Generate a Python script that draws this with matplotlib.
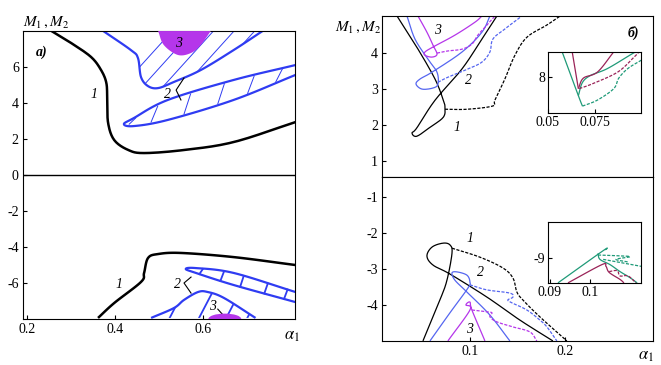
import numpy as np
import matplotlib.pyplot as plt
from matplotlib.patches import Polygon, Ellipse

plt.rcParams['font.family'] = ['Liberation Serif', 'DejaVu Serif']
plt.rcParams['mathtext.fontset'] = 'stix'
plt.rcParams['axes.unicode_minus'] = False
plt.rcParams['font.size'] = 10

# ---------------- panel a) data ----------------
a_c1_up_x = [0.255, 0.300, 0.345, 0.368, 0.380, 0.382, 0.384, 0.398, 0.430, 0.466, 0.557, 0.670, 0.811]
a_c1_up_y = [8.0, 7.33, 6.56, 5.83, 5.11, 4.17, 2.89, 1.94, 1.39, 1.22, 1.39, 1.83, 2.94]
a_c1_lo_x = [0.361, 0.398, 0.459, 0.466, 0.475, 0.498, 0.550, 0.670, 0.811]
a_c1_lo_y = [-7.94, -7.11, -5.94, -5.44, -4.61, -4.39, -4.33, -4.56, -5.0]

# upper U-shaped band (2)
a_u_x = [0.373, 0.436, 0.452, 0.459, 0.475, 0.498, 0.534, 0.595, 0.670, 0.736]
a_u_y = [8.0, 6.94, 6.5, 5.44, 4.94, 4.83, 5.17, 5.83, 6.94, 8.0]
# narrow upper loop (2)
a_lp_tip = (0.420, 2.83)
a_lp_top_x = [0.443, 0.520, 0.670, 0.811]
a_lp_top_y = [3.17, 4.17, 5.28, 6.11]
a_lp_bot_x = [0.443, 0.520, 0.670, 0.811]
a_lp_bot_y = [2.72, 3.06, 4.17, 5.56]
a_lp_hatch = [0.432, 0.482, 0.557, 0.634, 0.702, 0.766]
# magenta blob (3) upper
a_m_x = [0.498, 0.511, 0.543, 0.573, 0.595, 0.618]
a_m_y = [8.0, 7.22, 6.67, 6.78, 7.22, 8.0]

# lower narrow loop (2)
a_ll_tip = (0.561, -5.22)
a_ll_top_x = [0.584, 0.670, 0.811]
a_ll_top_y = [-5.17, -5.44, -6.5]
a_ll_bot_x = [0.584, 0.670, 0.811]
a_ll_bot_y = [-5.44, -6.11, -7.06]
a_ll_hatch = [0.600, 0.648, 0.693, 0.748, 0.793]
# lower inverted V (2)
a_v_x = [0.482, 0.534, 0.557, 0.589, 0.611, 0.648, 0.720]
a_v_y = [-7.94, -7.39, -6.94, -6.5, -6.5, -6.83, -7.94]

# ---------------- panel б) data ----------------
b_k_up_x = [0.0232, 0.0453, 0.0632, 0.0716, 0.0737, 0.072, 0.058, 0.044, 0.039, 0.044, 0.0632, 0.0916, 0.1126, 0.1284]
b_k_up_y = [5.03, 4.11, 3.28, 2.72, 2.5, 2.22, 1.94, 1.69, 1.78, 1.92, 2.69, 3.56, 4.39, 5.03]
b_k_upd_x = [0.0737, 0.097, 0.124, 0.1263, 0.1368, 0.1474, 0.160, 0.181, 0.195]
b_k_upd_y = [2.44, 2.44, 2.53, 2.69, 3.28, 3.94, 4.44, 4.78, 5.03]
b_b_up_x = [0.0337, 0.0421, 0.0558, 0.0653, 0.0663, 0.0611, 0.0495, 0.0432, 0.0474, 0.060, 0.0916, 0.1126, 0.121]
b_b_up_y = [5.03, 4.39, 3.83, 3.47, 3.14, 3.03, 3.0, 3.14, 3.28, 3.47, 4.03, 4.58, 5.03]
b_b_upd_x = [0.0663, 0.0768, 0.0979, 0.1126, 0.121, 0.1242, 0.1368, 0.1547]
b_b_upd_y = [3.19, 3.33, 3.56, 3.75, 4.03, 4.39, 4.67, 5.03]
b_m_up_x = [0.0453, 0.0547, 0.0611, 0.0653, 0.060, 0.0526, 0.0526, 0.0611, 0.0842, 0.1053, 0.1126]
b_m_up_y = [5.03, 4.58, 4.22, 3.97, 3.89, 3.94, 4.03, 4.17, 4.5, 4.86, 5.03]
b_m_upd_x = [0.0653, 0.0768, 0.0916, 0.1021, 0.1084, 0.1179, 0.1263]
b_m_upd_y = [4.0, 4.06, 4.11, 4.25, 4.5, 4.78, 5.03]

b_k_lo_x = [0.0505, 0.0684, 0.0758, 0.0811, 0.079, 0.0716, 0.060, 0.0547, 0.0611, 0.079, 0.1179, 0.1526, 0.1874]
b_k_lo_y = [-5.0, -3.86, -3.31, -2.56, -2.33, -2.28, -2.39, -2.64, -2.89, -3.14, -3.78, -4.42, -5.0]
b_k_lod_x = [0.0811, 0.1105, 0.1347, 0.1453, 0.1495, 0.1558, 0.1737, 0.2021]
b_k_lod_y = [-2.42, -2.67, -2.97, -3.25, -3.64, -3.86, -4.33, -5.0]
b_b_lo_x = [0.0579, 0.0789, 0.0979, 0.1, 0.0968, 0.0863, 0.0811, 0.0842, 0.0968, 0.121, 0.1421]
b_b_lo_y = [-5.0, -4.22, -3.53, -3.36, -3.17, -3.08, -3.11, -3.31, -3.64, -4.28, -5.0]
b_b_lod_x = [0.1, 0.1179, 0.1421, 0.1453, 0.14, 0.1442, 0.160, 0.1737, 0.1811, 0.1916]
b_b_lod_y = [-3.44, -3.58, -3.67, -3.78, -3.86, -3.94, -4.14, -4.42, -4.61, -5.0]
b_m_lo_x = [0.0768, 0.1, 0.0958, 0.1, 0.1021, 0.1158]
b_m_lo_y = [-5.0, -4.14, -4.0, -3.92, -4.14, -5.0]
b_m_lod_x = [0.1021, 0.1179, 0.1232, 0.1211, 0.1284, 0.1453, 0.1632, 0.1705]
b_m_lod_y = [-4.14, -4.19, -4.22, -4.33, -4.47, -4.61, -4.75, -5.0]

# insets
i1_g1_x = [0.0576, 0.0663, 0.0685]
i1_g1_y = [8.29, 7.79, 7.67]
i1_g2_x = [0.0663, 0.0685, 0.0728, 0.082, 0.0962, 0.0985]
i1_g2_y = [7.79, 7.94, 8.02, 8.10, 8.28, 8.29]
i1_gd_x = [0.0685, 0.0766, 0.0853, 0.088, 0.0929, 0.1005]
i1_gd_y = [7.67, 7.74, 7.87, 7.99, 8.10, 8.2]
i1_r1_x = [0.063, 0.0663]
i1_r1_y = [8.29, 7.87]
i1_r2_x = [0.0663, 0.069, 0.0766, 0.0853]
i1_r2_y = [7.87, 7.99, 8.06, 8.29]
i1_rd_x = [0.0668, 0.0744, 0.0875, 0.0962, 0.0989]
i1_rd_y = [7.87, 7.93, 8.06, 8.23, 8.29]

i2_g1_x = [0.092, 0.1033, 0.104]
i2_g1_y = [-9.29, -8.92, -8.91]
i2_g2_x = [0.102, 0.1025, 0.105, 0.1075, 0.11, 0.1118]
i2_g2_y = [-8.95, -9.02, -9.08, -9.16, -9.23, -9.29]
i2_gd1_x = [0.102, 0.1075, 0.11, 0.1065, 0.1095]
i2_gd1_y = [-8.97, -8.98, -8.99, -9.02, -9.05]
i2_gd2_x = [0.1033, 0.1128]
i2_gd2_y = [-9.02, -9.10]
i2_r_x = [0.0945, 0.103, 0.104, 0.1048, 0.1075, 0.1085]
i2_r_y = [-9.29, -9.08, -9.10, -9.17, -9.25, -9.29]
i2_rd_x = [0.1048, 0.1068, 0.1075, 0.1095, 0.1115]
i2_rd_y = [-9.16, -9.15, -9.21, -9.21, -9.29]

BLUE = '#2f3cf2'
LBLUE = '#5566f0'
MAG = '#b536ea'
GREEN = '#1f9a78'
MAROON = '#9a2358'
DASH = (0, (2.5, 1.2))


def smooth(x, y, n=12):
    """Catmull-Rom through the read points"""
    x = np.asarray(x, float)
    y = np.asarray(y, float)
    if len(x) < 3:
        return x, y
    p = np.column_stack([x, y])
    p = np.vstack([2 * p[0] - p[1], p, 2 * p[-1] - p[-2]])
    out = []
    t = np.linspace(0, 1, n, endpoint=False)[:, None]
    for i in range(1, len(p) - 2):
        p0, p1, p2, p3 = p[i - 1], p[i], p[i + 1], p[i + 2]
        seg = 0.5 * ((2 * p1) + (-p0 + p2) * t + (2 * p0 - 5 * p1 + 4 * p2 - p3) * t ** 2
                     + (-p0 + 3 * p1 - 3 * p2 + p3) * t ** 3)
        out.append(seg)
    out.append(p[-2][None, :])
    out = np.vstack(out)
    return out[:, 0], out[:, 1]


def curve(ax, x, y, **kw):
    sx, sy = smooth(x, y)
    ax.plot(sx, sy, solid_capstyle='butt', **kw)
    return sx, sy


fig = plt.figure(figsize=(6.61, 3.65), dpi=100)

# ======================= panel a) =======================
ax = fig.add_axes([0.0348, 0.126, 0.4115, 0.789])
ax.set_xlim(0.19, 0.81)
ax.set_ylim(-8, 8)
ax.axhline(0, color='black', lw=1.0)

curve(ax, a_c1_up_x, a_c1_up_y, color='black', lw=1.8)
curve(ax, a_c1_lo_x, a_c1_lo_y, color='black', lw=1.8)

# upper U band with hatch
ux, uy = curve(ax, a_u_x, a_u_y, color=BLUE, lw=1.6)
clip_u = Polygon(np.column_stack([ux, uy]), closed=True, transform=ax.transData)
for x0 in np.arange(0.40, 0.80, 0.047):
    ln, = ax.plot([x0, x0 + 0.13], [4.5, 8.0], color=BLUE, lw=0.7)
    ln.set_clip_path(clip_u)

# magenta blob
mx, my = smooth(a_m_x, a_m_y)
ax.fill(mx, my, color=MAG, lw=0, zorder=3)
ax.text(0.545, 7.3, '3', fontstyle='italic', ha='center', va='center', zorder=4)

# narrow upper loop
lx = [a_lp_top_x[-1]] + a_lp_top_x[::-1][1:] + [a_lp_tip[0]] + a_lp_bot_x
ly = [a_lp_top_y[-1]] + a_lp_top_y[::-1][1:] + [a_lp_tip[1]] + a_lp_bot_y
curve(ax, lx, ly, color=BLUE, lw=1.6)
for xh in a_lp_hatch:
    yb = np.interp(xh, [a_lp_tip[0]] + a_lp_bot_x, [a_lp_tip[1]] + a_lp_bot_y)
    yt = np.interp(xh + 0.015, [a_lp_tip[0]] + a_lp_top_x, [a_lp_tip[1]] + a_lp_top_y)
    ax.plot([xh, xh + 0.015], [yb + 0.05, yt - 0.05], color=BLUE, lw=0.7)

# lower narrow loop
lx = [a_ll_top_x[-1]] + a_ll_top_x[::-1][1:] + [a_ll_tip[0]] + a_ll_bot_x
ly = [a_ll_top_y[-1]] + a_ll_top_y[::-1][1:] + [a_ll_tip[1]] + a_ll_bot_y
curve(ax, lx, ly, color=BLUE, lw=1.6)
for xh in a_ll_hatch:
    yt = np.interp(xh, [a_ll_tip[0]] + a_ll_top_x, [a_ll_tip[1]] + a_ll_top_y)
    yb = np.interp(xh - 0.008, [a_ll_tip[0]] + a_ll_bot_x, [a_ll_tip[1]] + a_ll_bot_y)
    ax.plot([xh - 0.008, xh], [yb, yt], color=BLUE, lw=1.3)

# lower inverted V with hatch
vx, vy = curve(ax, a_v_x, a_v_y, color=BLUE, lw=1.6)
clip_v = Polygon(np.column_stack([vx, vy]), closed=True, transform=ax.transData)
for x0 in [0.523, 0.59, 0.652, 0.70]:
    ln, = ax.plot([x0, x0 + 0.06], [-8.0, -5.2], color=BLUE, lw=1.3, clip_on=True)
    ln.set_clip_path(clip_v)
ax.add_patch(Ellipse((0.65, -8.0), 0.075, 0.6, color=MAG, lw=0, zorder=3))

# labels a)
ax.text(0.352, 4.5, '1', fontstyle='italic', ha='center', va='center')
ax.text(0.409, -6.1, '1', fontstyle='italic', ha='center', va='center')
ax.text(0.52, 4.45, '2', fontstyle='italic', ha='center', va='center')
ax.plot([0.557, 0.539, 0.55], [5.39, 4.72, 4.17], color='black', lw=0.8)
ax.text(0.543, -6.1, '2', fontstyle='italic', ha='center', va='center')
ax.plot([0.573, 0.557, 0.573], [-5.67, -6.0, -6.56], color='black', lw=0.8)
ax.text(0.623, -7.3, '3', fontstyle='italic', ha='center', va='center')
ax.plot([0.634, 0.645], [-7.45, -7.75], color='black', lw=0.8)
ax.text(0.232, 6.8, 'а)', fontstyle='italic', fontweight='bold', ha='center', va='center')

ax.set_xticks([0.2, 0.4, 0.6])
ax.set_xticklabels(['0.2', '0.4', '0.6'])
ax.set_yticks([6, 4, 2, 0, -2, -4, -6])
ax.set_yticklabels(['6', '4', '2', '0', '-2', '-4', '-6'])
ax.tick_params(direction='in', length=3, labelsize=10, pad=3)
fig.text(0.035, 0.93, r'$M_1\,,M_2$', fontsize=11)
fig.text(0.43, 0.07, r'$\alpha_1$', fontsize=12)

# ======================= panel б) =======================
xl = (0.0074, 0.293)
bu = fig.add_axes([0.578, 0.515, 0.41, 0.441])
bl = fig.add_axes([0.578, 0.066, 0.41, 0.449])
bu.set_xlim(*xl)
bl.set_xlim(*xl)
bu.set_ylim(0.556, 5.03)
bl.set_ylim(-5.0, -0.44)

curve(bu, b_k_up_x, b_k_up_y, color='black', lw=0.9)
curve(bu, b_k_upd_x, b_k_upd_y, color='black', lw=0.9, linestyle=DASH)
curve(bu, b_b_up_x, b_b_up_y, color=LBLUE, lw=0.9)
curve(bu, b_b_upd_x, b_b_upd_y, color=LBLUE, lw=0.9, linestyle=DASH)
curve(bu, b_m_up_x, b_m_up_y, color=MAG, lw=0.9)
curve(bu, b_m_upd_x, b_m_upd_y, color=MAG, lw=0.9, linestyle=DASH)

curve(bl, b_k_lo_x, b_k_lo_y, color='black', lw=0.9)
curve(bl, b_k_lod_x, b_k_lod_y, color='black', lw=0.9, linestyle=DASH)
curve(bl, b_b_lo_x, b_b_lo_y, color=LBLUE, lw=0.9)
curve(bl, b_b_lod_x, b_b_lod_y, color=LBLUE, lw=0.9, linestyle=DASH)
curve(bl, b_m_lo_x, b_m_lo_y, color=MAG, lw=0.9)
curve(bl, b_m_lod_x, b_m_lod_y, color=MAG, lw=0.9, linestyle=DASH)

bu.text(0.066, 4.64, '3', fontstyle='italic', ha='center', va='center')
bu.text(0.098, 3.25, '2', fontstyle='italic', ha='center', va='center')
bu.text(0.086, 1.94, '1', fontstyle='italic', ha='center', va='center')
bu.text(0.272, 4.56, 'б)', fontstyle='italic', fontweight='bold', ha='center', va='center')
bl.text(0.100, -2.14, '1', fontstyle='italic', ha='center', va='center')
bl.text(0.111, -3.11, '2', fontstyle='italic', ha='center', va='center')
bl.text(0.100, -4.69, '3', fontstyle='italic', ha='center', va='center')

bu.set_xticks([])
bu.set_yticks([1, 2, 3, 4])
bu.set_yticklabels(['1', '2', '3', '4'])
bl.set_xticks([0.1, 0.2])
bl.set_xticklabels(['0.1', '0.2'])
bl.set_yticks([-1, -2, -3, -4])
bl.set_yticklabels(['-1', '-2', '-3', '-4'])
for a in (bu, bl):
    a.tick_params(direction='in', length=3, labelsize=10, pad=3)
fig.text(0.507, 0.915, r'$M_1\,,M_2$', fontsize=11)
fig.text(0.965, 0.015, r'$\alpha_1$', fontsize=12)

# insets
in1 = fig.add_axes([0.829, 0.690, 0.141, 0.168])
in1.set_xlim(0.05, 0.1)
in1.set_ylim(7.59, 8.29)
curve(in1, i1_g1_x, i1_g1_y, color=GREEN, lw=0.9)
curve(in1, i1_g2_x, i1_g2_y, color=GREEN, lw=0.9)
curve(in1, i1_gd_x, i1_gd_y, color=GREEN, lw=0.9, linestyle=DASH)
curve(in1, i1_r1_x, i1_r1_y, color=MAROON, lw=0.9)
curve(in1, i1_r2_x, i1_r2_y, color=MAROON, lw=0.9)
curve(in1, i1_rd_x, i1_rd_y, color=MAROON, lw=0.9, linestyle=DASH)
in1.set_xticks([0.05, 0.075])
in1.set_xticklabels(['0.05', '0.075'])
in1.set_yticks([8])
in1.set_yticklabels(['8'])

in2 = fig.add_axes([0.829, 0.225, 0.141, 0.167])
in2.set_xlim(0.0895, 0.1128)
in2.set_ylim(-9.29, -8.59)
curve(in2, i2_g1_x, i2_g1_y, color=GREEN, lw=0.9)
curve(in2, i2_g2_x, i2_g2_y, color=GREEN, lw=0.9)
curve(in2, i2_gd1_x, i2_gd1_y, color=GREEN, lw=0.9, linestyle=DASH)
curve(in2, i2_gd2_x, i2_gd2_y, color=GREEN, lw=0.9, linestyle=DASH)
curve(in2, i2_r_x, i2_r_y, color=MAROON, lw=0.9)
curve(in2, i2_rd_x, i2_rd_y, color=MAROON, lw=0.9, linestyle=DASH)
in2.set_xticks([0.09, 0.1])
in2.set_xticklabels(['0.09', '0.1'])
in2.set_yticks([-9])
in2.set_yticklabels(['-9'])
for a in (in1, in2):
    a.tick_params(direction='in', length=3, labelsize=10, pad=2)

fig.savefig('out.png', dpi=100)
